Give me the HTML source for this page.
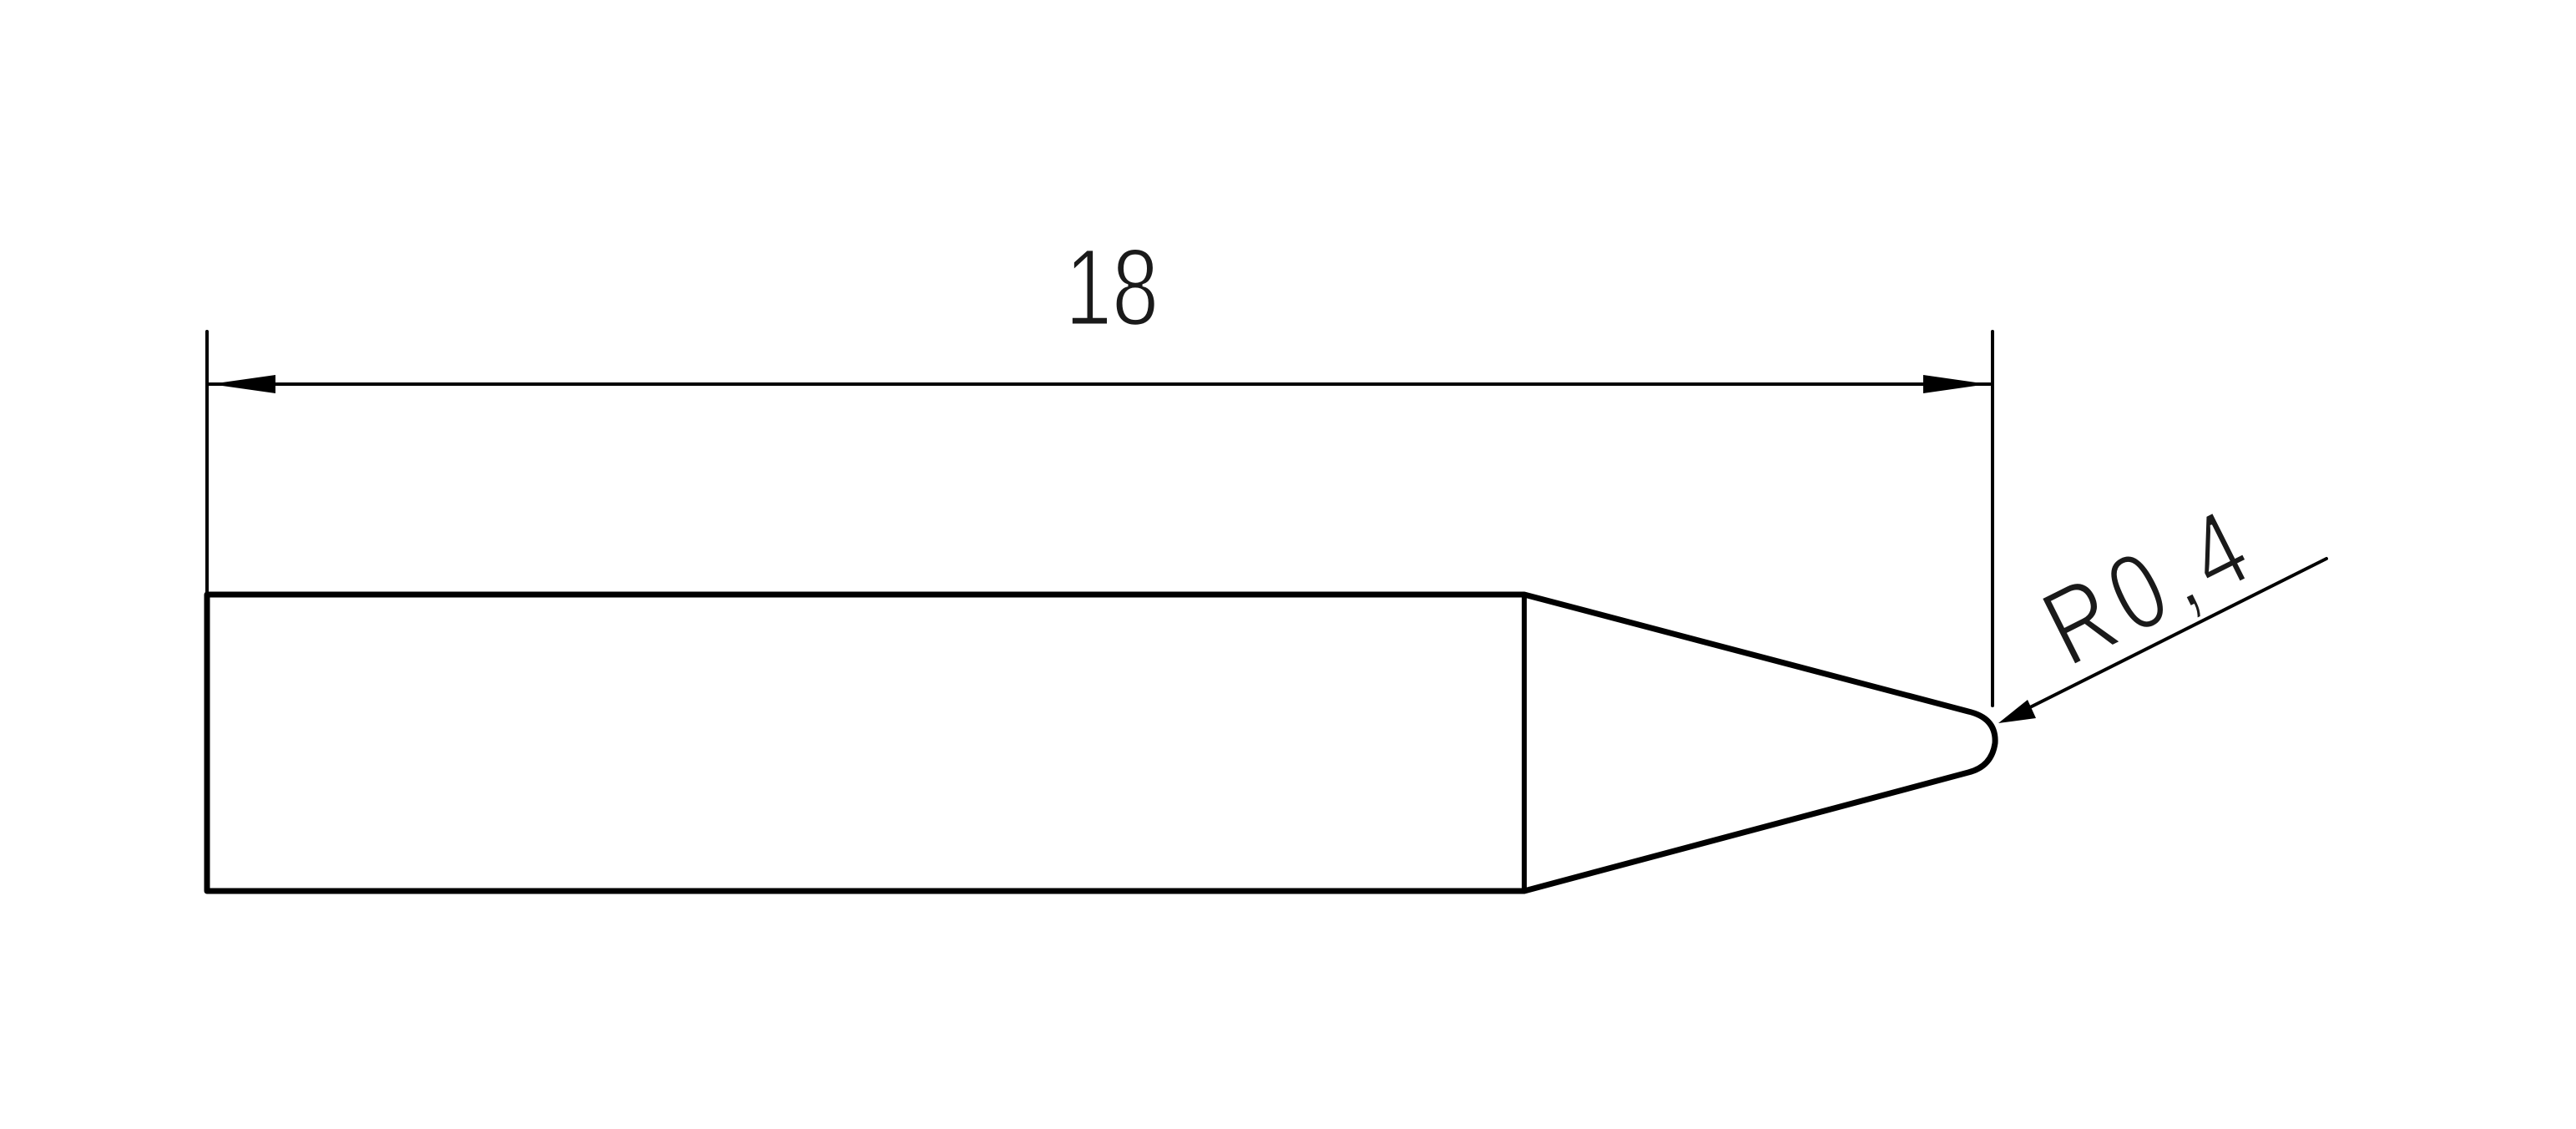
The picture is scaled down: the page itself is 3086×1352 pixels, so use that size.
<!DOCTYPE html>
<html><head><meta charset="utf-8"><style>html,body{margin:0;padding:0;background:#fff}svg{display:block}</style></head>
<body>
<svg width="3086" height="1352" viewBox="0 0 3086 1352" xmlns="http://www.w3.org/2000/svg">
<rect width="3086" height="1352" fill="#fff"/>
<g stroke="#000" stroke-linecap="round" stroke-linejoin="round" fill="none">
<line x1="248" y1="397" x2="248" y2="712" stroke-width="4"/>
<line x1="2387" y1="397" x2="2387" y2="845" stroke-width="4"/>
<line x1="250" y1="460" x2="2384" y2="460" stroke-width="4"/>
<path d="M248 712 L1826 712 L2358 852 Q2392 860 2390 890 Q2386 918 2358 925 L1826 1067 L248 1067 Z" stroke-width="7"/>
<line x1="1826" y1="712" x2="1826" y2="1067" stroke-width="6"/>
<line x1="2787" y1="669" x2="2420" y2="853" stroke-width="4"/>
</g>
<g fill="#000">
<polygon points="252,460 330,449 330,471"/>
<polygon points="2381,460 2304,449 2304,471"/>
<polygon points="2394,866 2429,838 2439,860"/>
</g>
<text x="0" y="0" transform="translate(1276 389) scale(0.77 1)" font-family="Liberation Sans, sans-serif" font-size="131" fill="#1a1a1a" stroke="#fff" stroke-width="3">18</text>
<text x="0" y="0" transform="translate(2478 800) rotate(-26.6) scale(0.8 1)" font-family="Liberation Sans, sans-serif" font-size="130" fill="#1a1a1a" stroke="#fff" stroke-width="3" textLength="314" lengthAdjust="spacing">R0,4</text>
</svg>
</body></html>
